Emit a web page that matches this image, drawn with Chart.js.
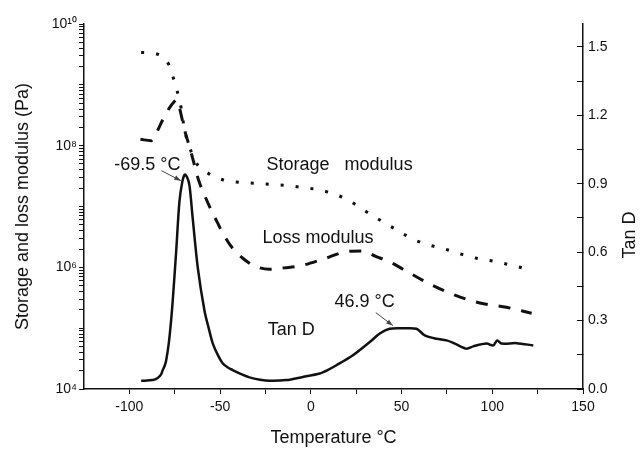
<!DOCTYPE html>
<html>
<head>
<meta charset="utf-8">
<script src="https://cdn.jsdelivr.net/npm/chart.js@4.4.0/dist/chart.umd.min.js"></script>
<style>
html, body { margin: 0; padding: 0; background: #fff; }
canvas { display: block; }
</style>
</head>
<body>
<canvas id="dmaChart" width="640" height="449"></canvas>
<script>
// storage modulus (Pa) vs temperature
var storageTemp = [-93.5, -85.3, -77.9, -75.2, -72.8, -71.3, -69.6, -66.9, -64.1, -55.8, -47.6, -39.3, -30.1, -21.8, -12.6, -4.4, 4.9, 13.1, 20.5, 30.6, 39.5, 48.1, 56.3, 65.2, 73.8, 82.5, 91.3, 100.2, 108.4, 117.1, 120.7];
var storageVal = [3.4e9, 3.24e9, 2.05e9, 1.13e9, 6.3e8, 3.9e8, 1.8e8, 9.7e7, 5.8e7, 3.4e7, 2.7e7, 2.5e7, 2.4e7, 2.3e7, 2.2e7, 2.05e7, 1.87e7, 1.59e7, 1.28e7, 8.2e6, 5.65e6, 4.0e6, 2.9e6, 2.33e6, 2.0e6, 1.66e6, 1.41e6, 1.27e6, 1.12e6, 9.7e5, 9.1e5];

// loss modulus (Pa)
var lossTemp = [-93.9, -88.0, -85.1, -81.6, -77.9, -75.2, -74.1, -72.4, -69.6, -66.9, -64.1, -61.9, -58.6, -55.8, -52.2, -48.5, -43.2, -37.5, -31, -22.7, -14.5, -6.2, 6.7, 19.6, 28, 36.1, 43.5, 50.8, 64.6, 79.4, 93.2, 107.9, 121.7];
var lossVal = [1.27e8, 1.21e8, 1.63e8, 2.66e8, 4.19e8, 5.31e8, 5.66e8, 4.19e8, 1.82e8, 9.7e7, 4.8e7, 2.74e7, 1.55e7, 9.96e6, 6.03e6, 3.64e6, 2.08e6, 1.41e6, 1.05e6, 9.3e5, 9.8e5, 1.05e6, 1.36e6, 1.81e6, 1.86e6, 1.5e6, 1.23e6, 9.3e5, 5.5e5, 3.5e5, 2.6e5, 2.2e5, 1.76e5];

// tan delta (right axis)
var tanTemp = [-93.5, -87.1, -84.4, -82.5, -81.6, -80.5, -79.7, -78.3, -77.0, -76.1, -74.2, -72.4, -70.8, -69.5, -68.3, -66.9, -65.1, -62.3, -58.6, -56, -54, -51, -48.5, -45.5, -43, -38, -33.8, -28, -22.7, -13.5, -4.4, 4.9, 9.5, 14.1, 23.2, 32.5, 38, 43.5, 50.8, 58.2, 62.8, 69.3, 74.8, 79.4, 85.8, 89.5, 96.9, 100.5, 102.7, 105.1, 113.4, 122.6];
var tanVal = [0.036, 0.039, 0.048, 0.064, 0.083, 0.103, 0.126, 0.199, 0.300, 0.387, 0.604, 0.822, 0.909, 0.94, 0.93, 0.894, 0.749, 0.532, 0.343, 0.258, 0.199, 0.145, 0.112, 0.093, 0.083, 0.064, 0.051, 0.041, 0.036, 0.039, 0.053, 0.068, 0.084, 0.104, 0.148, 0.206, 0.243, 0.264, 0.266, 0.264, 0.235, 0.220, 0.213, 0.199, 0.177, 0.187, 0.199, 0.191, 0.213, 0.199, 0.201, 0.191];

// axes
var tempTicks = [-100, -75, -50, -25, 0, 25, 50, 75, 100, 125, 150];
var tempLabels = ['-100', '', '-50', '', '0', '', '50', '', '100', '', '150'];
var modDecades = [4, 5, 6, 7, 8, 9];
var modTickValues = [1e4, 1e6, 1e8, 1e10];
var modTickLabels = ['10\u2074', '10\u2076', '10\u2078', '10\u00b9\u2070'];
var tanTicks = [0, 0.15, 0.3, 0.45, 0.6, 0.75, 0.9, 1.05, 1.2, 1.35, 1.5];
var tanLabels = ['0.0', '', '0.3', '', '0.6', '', '0.9', '', '1.2', '', '1.5'];

// text notes on the plot (temperature, tan D value of the text baseline start)
var noteTexts = ['-69.5 \u00b0C', '46.9 \u00b0C', 'Storage   modulus', 'Loss modulus', 'Tan D'];
var noteTemps = [-108.3, 13.1, -24.4, -26.6, -23.8];
var noteTans = [0.961, 0.361, 0.961, 0.639, 0.235];
var arrowFrom = [[-82.3, 0.957], [35.8, 0.335]];
var arrowTo = [[-71.6, 0.913], [45.2, 0.278]];

var FONT = "'Liberation Sans', Arial, Helvetica, sans-serif";
Chart.defaults.font.family = FONT;
Chart.defaults.color = '#111';

function pairs(xs, ys) {
  var out = [];
  for (var i = 0; i < xs.length; i++) out.push({x: xs[i], y: ys[i]});
  return out;
}

var modTicksAll = [];
modDecades.forEach(function (e) {
  for (var m = 1; m <= 9; m++) modTicksAll.push(m * Math.pow(10, e));
});
modTicksAll.push(1e10);

var notesPlugin = {
  id: 'notes',
  afterDatasetsDraw: function (chart) {
    var ctx = chart.ctx, xs = chart.scales.x, ts = chart.scales.y2;
    ctx.save();
    ctx.fillStyle = '#111';
    ctx.font = '18px ' + FONT;
    ctx.textBaseline = 'alphabetic';
    ctx.textAlign = 'left';
    for (var i = 0; i < noteTexts.length; i++) {
      ctx.fillText(noteTexts[i], xs.getPixelForValue(noteTemps[i]), ts.getPixelForValue(noteTans[i]));
    }
    // arrows
    ctx.strokeStyle = '#444';
    ctx.fillStyle = '#444';
    ctx.lineWidth = 1;
    for (var j = 0; j < arrowFrom.length; j++) {
      var x1 = xs.getPixelForValue(arrowFrom[j][0]), y1 = ts.getPixelForValue(arrowFrom[j][1]);
      var x2 = xs.getPixelForValue(arrowTo[j][0]), y2 = ts.getPixelForValue(arrowTo[j][1]);
      var a = Math.atan2(y2 - y1, x2 - x1);
      ctx.beginPath();
      ctx.moveTo(x1, y1);
      ctx.lineTo(x2, y2);
      ctx.stroke();
      ctx.beginPath();
      ctx.moveTo(x2, y2);
      ctx.lineTo(x2 - 7 * Math.cos(a - 0.35), y2 - 7 * Math.sin(a - 0.35));
      ctx.lineTo(x2 - 7 * Math.cos(a + 0.35), y2 - 7 * Math.sin(a + 0.35));
      ctx.closePath();
      ctx.fill();
    }
    // right axis title, reads bottom to top
    ctx.fillStyle = '#111';
    ctx.translate(chart.width - 10, chart.chartArea.top + 211);
    ctx.rotate(-Math.PI / 2);
    ctx.textAlign = 'center';
    ctx.textBaseline = 'middle';
    ctx.fillText('Tan D', 0, 0);
    ctx.restore();
  }
};

var ctx = document.getElementById('dmaChart').getContext('2d');
var myChart = new Chart(ctx, {
  type: 'line',
  data: {
    datasets: [{
      label: 'Storage modulus',
      data: pairs(storageTemp, storageVal),
      yAxisID: 'y',
      borderColor: '#111',
      borderWidth: 3,
      borderDash: [3, 12],
      pointRadius: 0,
      cubicInterpolationMode: 'monotone',
      fill: false
    },
    {
      label: 'Loss modulus',
      data: pairs(lossTemp, lossVal),
      yAxisID: 'y',
      borderColor: '#111',
      borderWidth: 3,
      borderDash: [12, 11],
      pointRadius: 0,
      cubicInterpolationMode: 'monotone',
      fill: false
    },
    {
      label: 'Tan D',
      data: pairs(tanTemp, tanVal),
      yAxisID: 'y2',
      borderColor: '#111',
      borderWidth: 2.5,
      borderJoinStyle: 'round',
      pointRadius: 0,
      tension: 0.3,
      fill: false
    }]
  },
  options: {
    responsive: false,
    animation: false,
    layout: { padding: { top: 24, left: 0, right: 0, bottom: 0 } },
    plugins: { legend: { display: false }, tooltip: { enabled: false } },
    scales: {
      x: {
        type: 'linear', position: 'bottom', min: -125, max: 150,
        afterBuildTicks: function (s) { s.ticks = tempTicks.map(function (v) { return {value: v}; }); },
        ticks: {
          autoSkip: false, maxRotation: 0, padding: 5, font: { size: 14 },
          callback: function (v) { var k = tempTicks.indexOf(v); return k < 0 ? '' : tempLabels[k]; }
        },
        grid: { drawOnChartArea: false, tickLength: 5, tickColor: '#111' },
        border: { color: '#111', width: 1.5 },
        title: { display: true, text: 'Temperature \u00b0C', font: { size: 18 }, padding: { top: 0, bottom: 0 } },
        afterFit: function (s) { s.height = 60; s.paddingLeft = 0; s.paddingRight = 0; }
      },
      y: {
        type: 'logarithmic', position: 'left', min: 1e4, max: 1e10,
        afterBuildTicks: function (s) { s.ticks = modTicksAll.map(function (v) { return {value: v}; }); },
        ticks: {
          autoSkip: false, padding: 2, font: { size: 14 },
          callback: function (v) { var k = modTickValues.indexOf(v); return k < 0 ? '' : modTickLabels[k]; }
        },
        grid: { drawOnChartArea: false, tickLength: 5, tickColor: '#111' },
        border: { color: '#111', width: 1.5 },
        title: { display: true, text: 'Storage and loss modulus (Pa)', font: { size: 18 }, padding: { top: 12, bottom: 0 } },
        afterFit: function (s) { s.width = 84; s.paddingTop = 0; s.paddingBottom = 0; }
      },
      y2: {
        type: 'linear', position: 'right', min: 0, max: 1.6,
        afterBuildTicks: function (s) { s.ticks = tanTicks.map(function (v) { return {value: v}; }); },
        ticks: {
          autoSkip: false, padding: 11, font: { size: 14 },
          callback: function (v) { var k = tanTicks.indexOf(v); return k < 0 ? '' : tanLabels[k]; }
        },
        grid: { drawOnChartArea: false, tickLength: -6, tickColor: '#111' },
        border: { color: '#111', width: 1.5 },
        afterFit: function (s) { s.width = 57; s.paddingTop = 0; s.paddingBottom = 0; }
      }
    }
  },
  plugins: [notesPlugin]
});
</script>
</body>
</html>
